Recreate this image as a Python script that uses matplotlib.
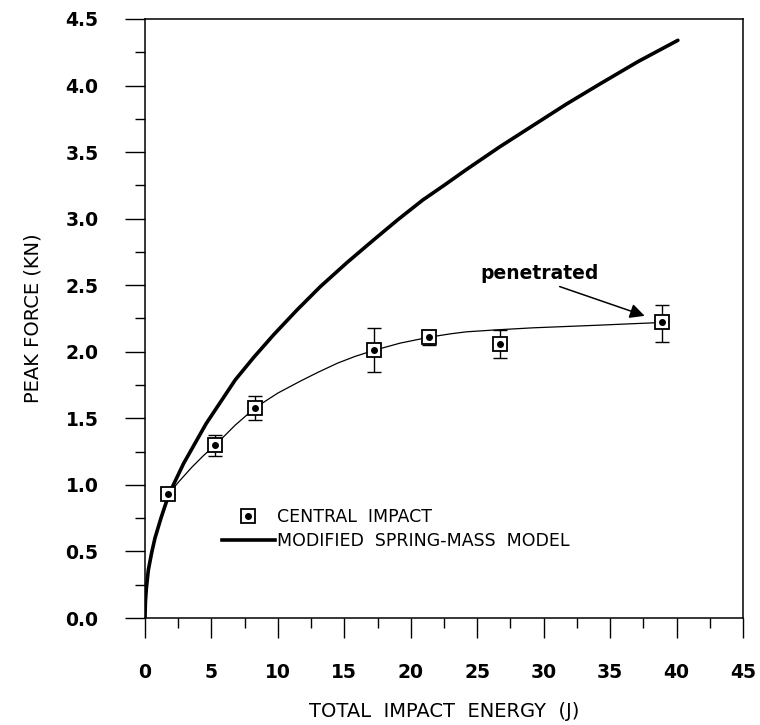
import numpy as np
import matplotlib
matplotlib.use('Agg')
import matplotlib.pyplot as plt
from matplotlib.ticker import MultipleLocator
from matplotlib.legend_handler import HandlerTuple

energy = [1.75, 5.3, 8.3, 17.2, 21.4, 26.7, 38.9]
force = [0.93, 1.30, 1.58, 2.01, 2.11, 2.06, 2.22]
force_low = [0.93, 1.22, 1.49, 1.85, 2.05, 1.95, 2.07]
force_high = [0.93, 1.375, 1.67, 2.18, 2.16, 2.165, 2.355]

# smooth curve drawn through the measured points
fit_e = [1.75, 2.6, 3.5, 4.4, 5.3, 6.8, 8.3, 10.0, 11.7, 13.0, 14.5, 15.8, 17.2,
         19.2, 21.4, 23.0, 24.2, 26.5, 29.2, 31.7, 34.2, 36.5, 38.9]
fit_f = [0.93, 1.03, 1.13, 1.22, 1.30, 1.45, 1.58, 1.69, 1.78, 1.845, 1.915, 1.965,
         2.01, 2.065, 2.11, 2.135, 2.15, 2.165, 2.18, 2.19, 2.20, 2.21, 2.22]

# modified spring-mass model
model_e = [0, 0.03, 0.1, 0.25, 0.5, 0.75, 1.2, 1.8, 2.9, 4.6, 6.8, 8.2, 9.7,
           11.4, 13.2, 15.2, 17.2, 19.0, 20.9, 22.5, 24.2, 26.7, 29.2, 31.7,
           34.2, 37.1, 40.1]
model_f = [0, 0.12, 0.22, 0.36, 0.49, 0.60, 0.75, 0.93, 1.16, 1.46, 1.79, 1.96,
           2.13, 2.31, 2.49, 2.67, 2.84, 2.99, 3.14, 3.25, 3.37, 3.54, 3.70,
           3.86, 4.01, 4.18, 4.34]

note_xy = (29.7, 2.59)
arrow_tail = (31.2, 2.49)
arrow_head = (37.6, 2.27)

fig = plt.figure(figsize=(7.6, 7.25), dpi=100)
ax = fig.add_axes([145 / 760, 1 - 618 / 725, 598 / 760, 599 / 725])

ax.plot(model_e, model_f, color='black', lw=2.6, solid_capstyle='round',
        solid_joinstyle='round', zorder=3)
ax.plot(fit_e, fit_f, color='black', lw=0.9, solid_joinstyle='round', zorder=2)

f = np.array(force)
yerr = [f - np.array(force_low), np.array(force_high) - f]
ax.errorbar(energy, force, yerr=yerr, fmt='none', ecolor='black',
            elinewidth=1.0, capsize=5, capthick=1.0, zorder=4)
sq, = ax.plot(energy, force, ls='none', marker='s', ms=9.5, mfc='white',
              mec='black', mew=1.3, zorder=5)
dot, = ax.plot(energy, force, ls='none', marker='o', ms=4, color='black', zorder=6)
model_handle, = ax.plot([], [], color='black', lw=2.6)

ax.text(note_xy[0], note_xy[1], 'penetrated', fontsize=13.5, fontweight='bold',
        ha='center', va='center')
ax.annotate('', xy=arrow_head, xytext=arrow_tail,
            arrowprops=dict(arrowstyle='-|>', color='black', lw=1.1,
                            mutation_scale=22, shrinkA=0, shrinkB=0))

leg = ax.legend([(sq, dot), model_handle],
                ['CENTRAL  IMPACT', 'MODIFIED  SPRING-MASS  MODEL'],
                handler_map={tuple: HandlerTuple(ndivide=1)},
                loc='center left', bbox_to_anchor=(0.115, 0.148),
                frameon=False, fontsize=12.5, handlelength=3.0,
                handletextpad=0.15, labelspacing=0.35, borderpad=0)

ax.set_xlim(0, 45)
ax.set_ylim(0, 4.5)
ax.xaxis.set_major_locator(MultipleLocator(5))
ax.xaxis.set_minor_locator(MultipleLocator(2.5))
ax.yaxis.set_major_locator(MultipleLocator(0.5))
ax.yaxis.set_minor_locator(MultipleLocator(0.25))
ax.yaxis.set_major_formatter(plt.FormatStrFormatter('%.1f'))
ax.tick_params(which='major', direction='out', length=14.5, width=1.0, pad=18)
ax.tick_params(which='minor', direction='out', length=7, width=1.0)
ax.tick_params(axis='y', which='major', pad=19)
for lab in ax.get_xticklabels() + ax.get_yticklabels():
    lab.set_fontweight('bold')
    lab.set_fontsize(13.5)
for s in ax.spines.values():
    s.set_linewidth(1.1)

ax.set_xlabel('TOTAL  IMPACT  ENERGY  (J)', fontsize=14, va='center')
ax.xaxis.set_label_coords(0.5, -0.156)
ax.set_ylabel('PEAK FORCE (KN)', fontsize=14, va='center', ha='center')
ax.yaxis.set_label_coords(-0.187, 0.5)

fig.savefig('out.png', dpi=100)
